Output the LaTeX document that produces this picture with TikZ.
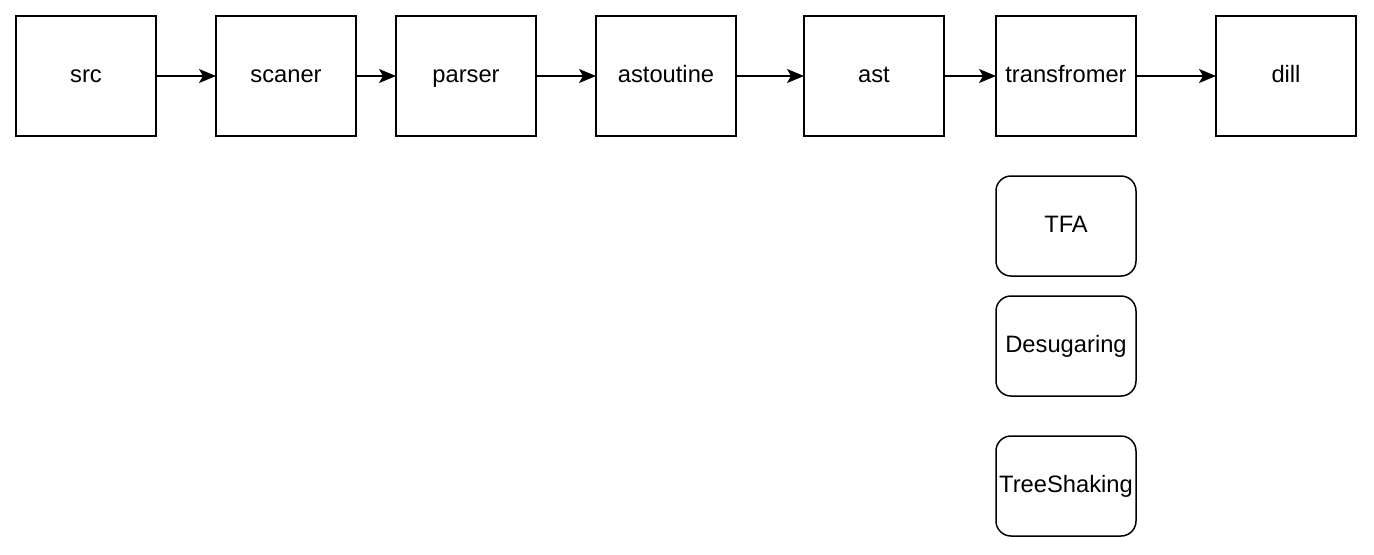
\documentclass[tikz,border=0pt]{standalone}
\usepackage{fontspec}
\setmainfont{Liberation Sans}
\usetikzlibrary{positioning, arrows.meta}
\tikzset{
    stagenode/.style={
        rectangle,
        draw,
        line width=0.85pt, % 边框
        minimum width=2.8cm,
        minimum height=2.4cm,
        inner sep=0,
        outer sep=0,
        text height=0.95em,
        text depth=0.18em,
        font=\fontsize{13.5}{16}\selectfont
    },
    passnode/.style={
        stagenode,
        rounded corners=0.3cm,
        minimum height=2cm
    },
    flow/.style={
        -{Stealth[length=0.34cm,width=0.28cm,inset=0.08cm]},
        line width=0.85pt
    }
}
\begin{document}
\begin{tikzpicture}
    \useasboundingbox (0,0) rectangle (27.48,-11.08);
    % 主流程
    \node[stagenode] (src) at (1.72,-1.52) {src};
    \node[stagenode, right=1.2cm of src] (scaner) {scaner};
    \node[stagenode, right=0.8cm of scaner] (parser) {parser};
    \node[stagenode, right=1.2cm of parser] (astoutine) {astoutine};
    \node[stagenode, right=1.36cm of astoutine] (ast) {ast};
    \node[stagenode, right=1.04cm of ast] (transfromer) {transfromer};
    \node[stagenode, right=1.6cm of transfromer] (dill) {dill};
    % transfromer 下的各个 pass
    \node[passnode, below=0.8cm of transfromer] (tfa) {TFA};
    \node[passnode, below=0.4cm of tfa] (desugaring) {Desugaring};
    \node[passnode, below=0.8cm of desugaring] (treeshaking) {TreeShaking};
    % 箭头
    \draw[flow] (src) -- (scaner);
    \draw[flow] (scaner) -- (parser);
    \draw[flow] (parser) -- (astoutine);
    \draw[flow] (astoutine) -- (ast);
    \draw[flow] (ast) -- (transfromer);
    \draw[flow] (transfromer) -- (dill);
\end{tikzpicture}
\end{document}
